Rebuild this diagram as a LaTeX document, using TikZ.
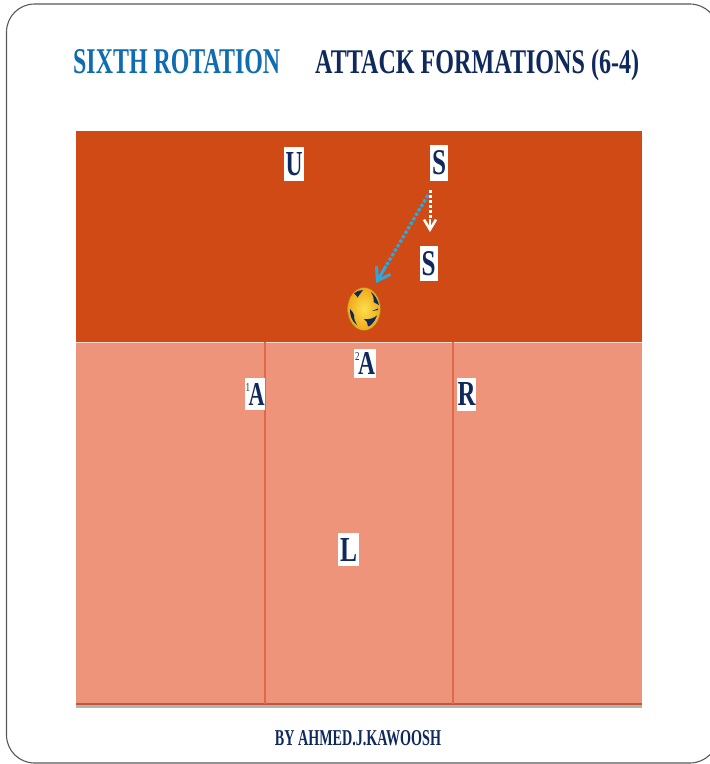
\documentclass[tikz,border=0pt]{standalone}
\usepackage{fontspec}
\setmainfont{Liberation Serif}
\usetikzlibrary{arrows.meta,shapes.geometric}
\definecolor{courtdark}{HTML}{CF4A15}
\definecolor{courtlight}{HTML}{EE947B}
\definecolor{courtline}{HTML}{E0694A}
\definecolor{courtedge}{HTML}{C4563A}
\definecolor{navytext}{HTML}{10295C}
\definecolor{bluetext}{HTML}{0F6CB0}
\definecolor{arrowblue}{HTML}{2EA8DC}
\definecolor{ballyellow}{HTML}{EFA81C}
\definecolor{ballcore}{HTML}{FCE04A}
\newcommand{\fit}[3]{\resizebox{#1pt}{#2pt}{\bfseries #3}}
\newcommand{\supnum}[1]{\rlap{\raisebox{14pt}{\resizebox{4.5pt}{8pt}{#1}}}\hspace{3pt}}
\tikzset{
  lab/.style={fill=white,inner sep=0pt,text=navytext,anchor=center},
  ttl/.style={inner sep=0pt,anchor=base west},
  ballpatch/.style={fill=navytext,draw=none}
}
\begin{document}
\begin{tikzpicture}[x=1pt,y=-1pt]
\useasboundingbox (0,0) rectangle (710,764);
\fill[white] (0,0) rectangle (710,764);
\draw[line width=1.1pt,draw=black!65,rounded corners=28pt] (6.5,4) rectangle (718,763);
\node[ttl,text=bluetext] (t1) at (73,73) {\fit{207}{24}{SIXTH ROTATION}};
\node[ttl,text=navytext] (t2) at (315,73) {\fit{324}{24}{ATTACK FORMATIONS (6-4)}};
\fill[black!30] (76,704) rectangle (642,707.5);
\fill[courtlight] (76,342) rectangle (642,704);
\fill[courtedge] (76,702.5) rectangle (642,704.5);
\fill[courtdark] (76,131) rectangle (642,342);
\draw[white!65!courtlight,line width=1pt] (76,342) -- (642,342);
\draw[courtline,line width=1.3pt] (265,342) -- (265,704);
\draw[courtline,line width=1.3pt] (453,342) -- (453,704);
\node[lab,minimum width=20pt,minimum height=34pt] (u) at (294,164) {\fit{17}{23}{U}};
\node[lab,minimum width=18pt,minimum height=36pt] (s1) at (439,163) {\fit{14}{24}{S}};
\node[lab,minimum width=18pt,minimum height=35pt] (s2) at (428.5,263.5) {\fit{14}{24}{S}};
\node[lab,minimum width=22pt,minimum height=29pt] (a2) at (365,363.5) {\supnum{2}\fit{17}{22}{A}};
\node[lab,minimum width=20pt,minimum height=32pt] (a1) at (255,394) {\supnum{1}\fit{16}{22}{A}};
\node[lab,minimum width=19pt,minimum height=33pt] (r) at (466.5,394) {\fit{18}{23}{R}};
\node[lab,minimum width=21pt,minimum height=33pt] (l) at (348.5,549.5) {\fit{17}{23}{L}};
\coordinate (wstart) at (430,190);
\coordinate (wend) at (430,232);
\coordinate (bstart) at (428,195);
\coordinate (bend) at (376,283);
\draw[white,line width=3pt,dotted] (wstart) -- (430,218);
\draw[white,line width=2.5pt,-{Straight Barb[length=10pt,width=12pt]}] (430,219) -- (wend);
\draw[arrowblue,line width=3.2pt,dotted] (bstart) -- (386,266);
\draw[arrowblue,line width=3pt,-{Straight Barb[length=12pt,width=16pt]}] (386,266) -- (bend);
\node[ellipse,minimum width=33pt,minimum height=43pt,inner sep=0pt,draw=ballyellow!70!black,line width=.4pt,shade,inner color=ballcore,outer color=ballyellow] (ball) at (364,309) {};
\begin{scope}
\clip (364,309) ellipse [x radius=16pt,y radius=21pt];
\fill[ballpatch] (354,293.5) .. controls (357,291) and (360,290) .. (363,290) .. controls (361,293) and (359,295) .. (357.5,297.5) .. controls (357,296) and (355.5,294.5) .. (354,293.5) -- cycle;
\fill[ballpatch] (371,292) .. controls (375,295) and (378,300) .. (379,305) .. controls (377,304) and (375,303) .. (373.5,302) .. controls (374,298) and (373,295) .. (371,292) -- cycle;
\fill[ballpatch] (350,309) .. controls (352,311) and (353.5,313) .. (354,315) .. controls (354,319) and (355,322) .. (357,325) .. controls (354,323) and (352,320) .. (351,317) .. controls (350,314) and (350,311) .. (350,309) -- cycle;
\fill[ballpatch] (364,319) .. controls (369,320) and (374,318) .. (377,315.5) .. controls (376,319) and (374,322) .. (372,324) .. controls (371,325) and (370,326) .. (368,326.5) .. controls (368,323) and (366.5,321) .. (364,319) -- cycle;
\fill[ballpatch] (372,311) -- (378,308.5) -- (378,310) -- cycle;
\end{scope}
\node[inner sep=0pt,anchor=base,text=navytext] (by) at (358,745) {\fit{166}{15}{BY AHMED.J.KAWOOSH}};
\end{tikzpicture}
\end{document}
